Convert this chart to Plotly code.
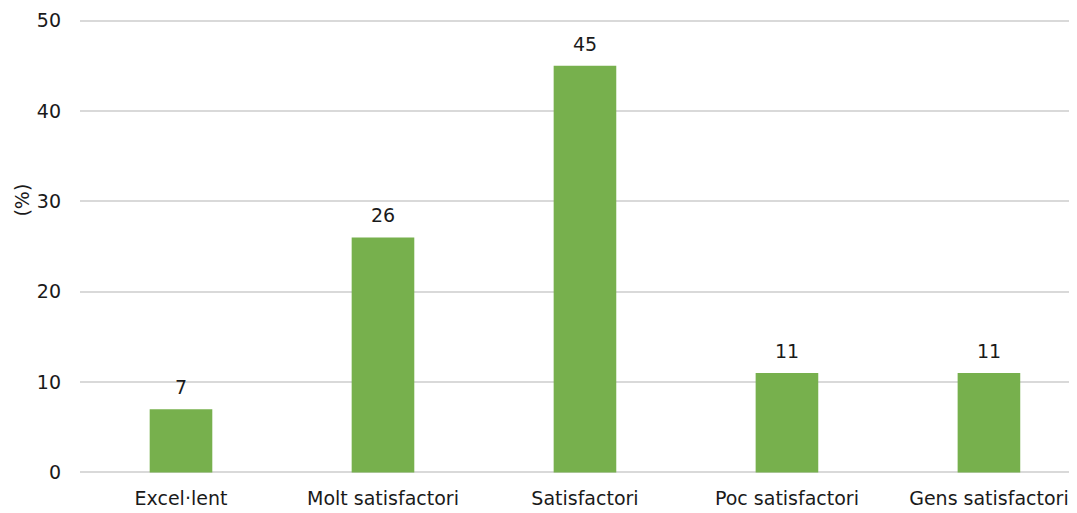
import plotly.graph_objects as go

categories = ["Excel·lent", "Molt satisfactori", "Satisfactori", "Poc satisfactori", "Gens satisfactori"]
values = [7, 26, 45, 11, 11]
y_ticks = [0, 10, 20, 30, 40, 50]

FONT = "DejaVu Sans, Liberation Sans, Arial, sans-serif"
TXT = "#1a1a1a"

xs = list(range(len(categories)))

fig = go.Figure(go.Bar(
    x=xs, y=values,
    marker=dict(color="#77B04D", line=dict(width=0)),
    width=0.31,
    hoverinfo="x+y",
))

value_labels = [dict(
    x=x, y=v, text=str(v), showarrow=False, xref="x", yref="y",
    xanchor="center", yanchor="bottom", yshift=9,
    font=dict(size=19, color=TXT, family=FONT),
) for x, v in zip(xs, values)]

title_label = dict(
    text="(%)", textangle=-90, showarrow=False,
    xref="paper", yref="paper", x=-0.058, y=0.6,
    xanchor="center", yanchor="middle", font=dict(size=19, color=TXT),
)

# page body has an 8px margin, so the figure is sized/offset to fit the window
fig.update_layout(
    width=1069, height=505,
    margin=dict(l=72, r=0, t=8, b=36),
    paper_bgcolor="white", plot_bgcolor="white",
    font=dict(family=FONT, size=19, color=TXT),
    showlegend=False,
    xaxis=dict(
        tickmode="array", tickvals=xs, ticktext=categories,
        range=[-0.5, 4.436], showgrid=False, zeroline=False, showline=False,
        ticks="", ticklen=0, tickfont=dict(size=19), ticklabelstandoff=8,
    ),
    yaxis=dict(
        range=[-0.5, 50.5], tickvals=y_ticks, showgrid=True, gridcolor="#D9D9D9", gridwidth=1.5,
        zeroline=False, showline=False, ticks="", tickfont=dict(size=19),
        ticklabelstandoff=18,
    ),
    annotations=value_labels + [title_label],
)

fig.write_html("out.html")
